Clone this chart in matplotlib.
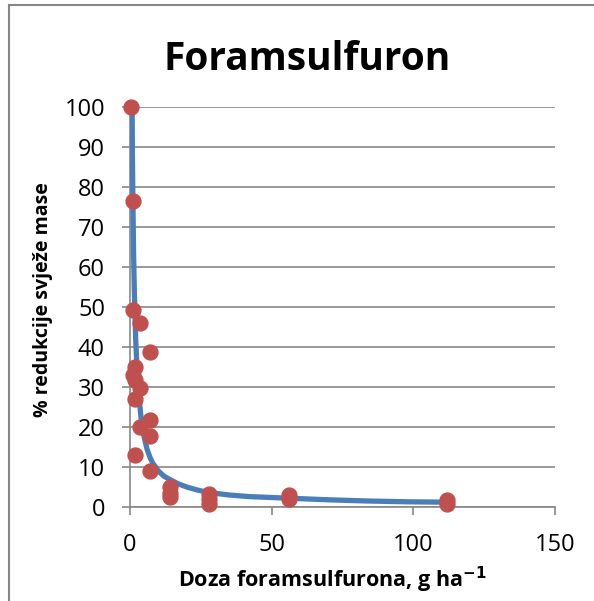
import matplotlib.pyplot as plt
from matplotlib.patches import Rectangle

# Izmjerene točke (doza g/ha, % redukcije)
doza = [0.4, 1.2, 1, 3.5, 7, 1.75, 0.9, 1.75, 3.5, 1.75, 7, 3.5, 7, 1.75, 7,
        14, 14, 14, 28, 28, 28, 56, 56, 112, 112]
redukcija = [100, 76.5, 49.3, 46, 38.7, 35, 33, 31.7, 29.7, 27, 21.7, 20, 17.7, 13, 9,
             5, 3.5, 2.5, 3.2, 2, 0.8, 3, 2, 1.7, 0.8]

# Krivulja očitana sa slike
krivulja_x = [0.75, 0.85, 1, 1.25, 1.5, 2, 2.5, 3, 4, 5, 6, 7, 8, 10, 12, 14, 17, 20,
              24, 28, 35, 42, 56, 70, 84, 98, 112]
krivulja_y = [100, 88, 78, 64, 55, 42, 34, 29, 21.5, 17.5, 14.5, 12.5, 11, 9, 7.7, 6.9,
              5.8, 5, 4.2, 3.6, 3.0, 2.6, 2.2, 1.8, 1.5, 1.3, 1.2]

plt.rcParams['font.family'] = ['Open Sans', 'DejaVu Sans']

fig = plt.figure(figsize=(5.94, 6.01), dpi=100)
fig.patches.append(Rectangle((9 / 594, -0.1), 1.2, (601 - 5) / 601 + 0.1,
                             transform=fig.transFigure, fill=False,
                             edgecolor='#878787', linewidth=1.5))

ax = fig.add_axes([130 / 594, 94 / 601, 425 / 594, 400 / 601])
ax.plot(krivulja_x, krivulja_y, color='#4a7ebb', linewidth=3.8, zorder=3)
ax.scatter(doza, redukcija, s=115, color='#c0504d', zorder=4, clip_on=False)

ax.set_xlim(0, 150)
ax.set_ylim(0, 100)
ax.set_xticks([0, 50, 100, 150])
ax.set_yticks(range(0, 101, 10))
ax.grid(axis='y', color='#888888', linewidth=1.2)
ax.set_axisbelow(True)
for s in ['top', 'right']:
    ax.spines[s].set_visible(False)
for s in ['left', 'bottom']:
    ax.spines[s].set_color('#888888')
    ax.spines[s].set_linewidth(1.2)
ax.tick_params(colors='#888888', labelcolor='black', labelsize=17, length=6, width=1.2)
ax.tick_params(axis='y', pad=12)
ax.tick_params(axis='x', pad=13)

fig.text(307 / 594, 1 - 59 / 601, 'Foramsulfuron', fontsize=28, fontweight='bold',
         ha='center', va='center')
fig.text(332 / 594, 1 - 580 / 601, 'Doza foramsulfurona, g ha$^{\\mathbf{-1}}$',
         fontsize=15.5, fontweight='bold', ha='center', va='center')
fig.text(43 / 594, 1 - 300 / 601, '% redukcije svježe mase',
         fontsize=14, fontweight='bold', rotation=90, ha='center', va='center')

fig.savefig('out.png', dpi=100)
